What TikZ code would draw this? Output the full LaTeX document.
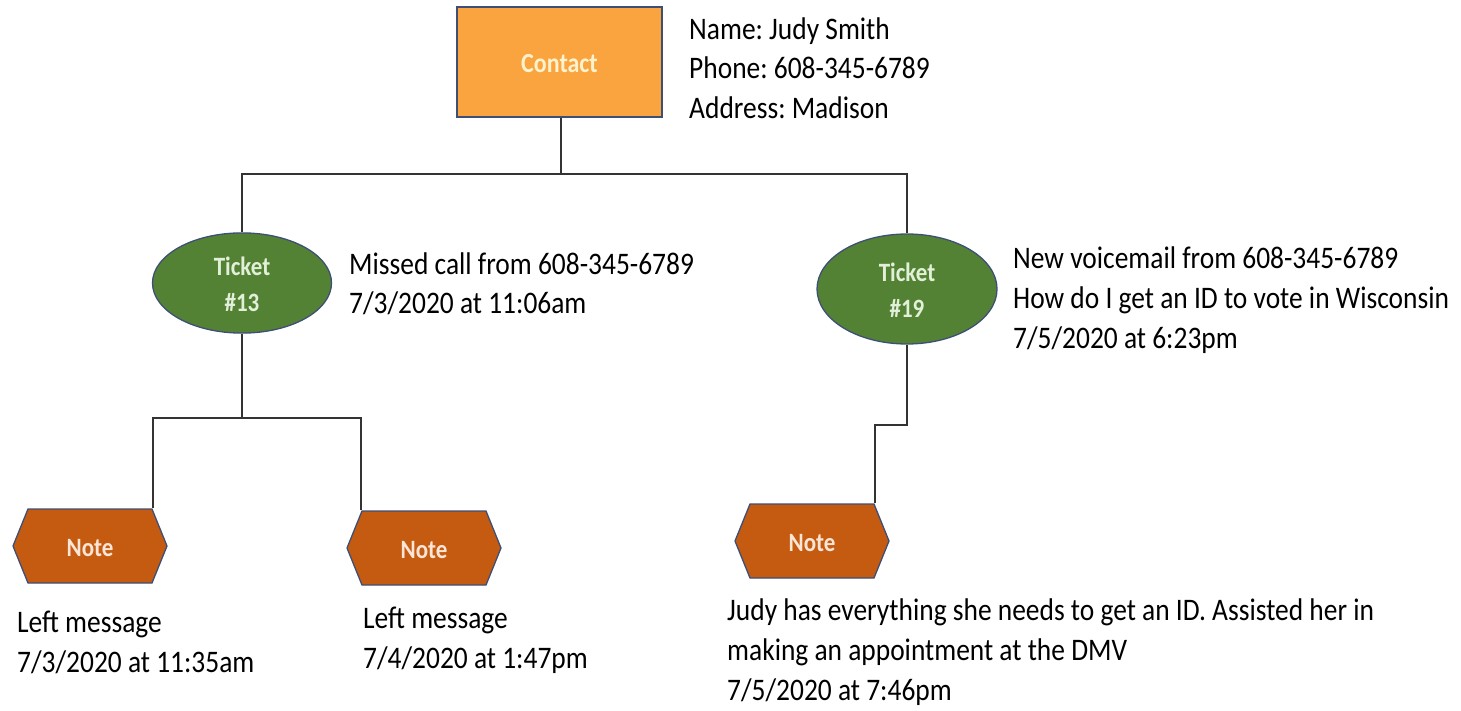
\documentclass[tikz,border=0pt]{standalone}
\usepackage{fontspec}
\usepackage{graphicx}
\setmainfont{Carlito}
\frenchspacing
\usetikzlibrary{calc,shapes.geometric}
\definecolor{contactfill}{HTML}{F9A43F}
\definecolor{ticketfill}{HTML}{548235}
\definecolor{notefill}{HTML}{C55A11}
\definecolor{border}{HTML}{3E4F75}
\definecolor{contacttext}{HTML}{FFF2CC}
\definecolor{tickettext}{HTML}{E2F0D9}
\definecolor{notetext}{HTML}{FBE5D6}
\definecolor{linec}{HTML}{333333}
\newcommand\infolines[1]{\scalebox{0.98}[1.12]{\def\arraystretch{1}\begin{tabular}{@{}l@{}}#1\end{tabular}}}
\newcommand\shapelines[1]{\raisebox{-3.5pt}[\height][\depth]{\scalebox{1}[1.15]{\def\arraystretch{1.1}\begin{tabular}{@{}c@{}}#1\end{tabular}}}}
\tikzset{
  contactbox/.style={rectangle, draw=border, line width=1.3pt, fill=contactfill, minimum width=205pt, minimum height=110pt, inner sep=0pt, text=contacttext, font=\fontsize{24}{28}\selectfont\bfseries},
  ticketbox/.style={ellipse, draw=border, line width=1.3pt, fill=ticketfill, inner sep=0pt, text=tickettext, font=\fontsize{23}{28}\selectfont\bfseries},
  notebox/.style={rectangle, minimum width=158pt, minimum height=78pt, inner sep=0pt, text=notetext, font=\fontsize{23}{28}\selectfont\bfseries,
    path picture={\draw[fill=notefill, draw=border, line width=1.3pt]
      ([xshift=2pt]path picture bounding box.west) --
      ([xshift=17pt,yshift=-2pt]path picture bounding box.north west) --
      ([xshift=-17pt,yshift=-2pt]path picture bounding box.north east) --
      ([xshift=-2pt]path picture bounding box.east) --
      ([xshift=-17pt,yshift=2pt]path picture bounding box.south east) --
      ([xshift=17pt,yshift=2pt]path picture bounding box.south west) -- cycle;}},
  info/.style={anchor=west, inner sep=0pt, yshift=-2.5pt, text=black, font=\fontsize{28}{35.5}\selectfont},
  conn/.style={draw=linec, line width=1.1pt}
}
\begin{document}
\begin{tikzpicture}[x=1pt,y=-1pt]
\useasboundingbox[fill=white] (0,0) rectangle (1461,711);
% nodes
\node[contactbox] (contact) at (559.5,62) {\shapelines{Contact}};
\node[ticketbox, minimum width=179pt, minimum height=95pt] (t13) at (242,283) {\shapelines{Ticket\\\#13}};
\node[ticketbox, minimum width=180pt, minimum height=110pt] (t19) at (907,289) {\shapelines{Ticket\\\#19}};
\node[notebox] (n1) at (90,546) {\shapelines{Note}};
\node[notebox] (n2) at (424,548) {\shapelines{Note}};
\node[notebox] (n3) at (812,541) {\shapelines{Note}};
% texts
\node[info] (ci) at (689,68.5) {\infolines{Name: Judy Smith\\Phone: 608-345-6789\\Address: Madison}};
\node[info] (ti13) at (349,283.5) {\infolines{Missed call from 608-345-6789\\7/3/2020 at 11:06am}};
\node[info] (ti19) at (1013,298) {\infolines{New voicemail from 608-345-6789\\How do I get an ID to vote in Wisconsin\\7/5/2020 at 6:23pm}};
\node[info] (ni1) at (17,642) {\infolines{Left message\\7/3/2020 at 11:35am}};
\node[info] (ni2) at (363,638) {\infolines{Left message\\7/4/2020 at 1:47pm}};
\node[info] (ni3) at (727,650) {\infolines{Judy has everything she needs to get an ID. Assisted her in\\making an appointment at the DMV\\7/5/2020 at 7:46pm}};
% connectors
\coordinate (j0) at (561,174);
\draw[conn] (contact.south -| j0) -- (j0);
\draw[conn] (j0) -| (t13.north);
\draw[conn] (j0) -| (t19.north);
\coordinate (j1) at (240,418);
\draw[conn] (t13.south) -- (t13.south |- j1);
\draw[conn] (t13.south |- j1) -| ($(n1.north)+(63,1)$);
\draw[conn] (t13.south |- j1) -| ($(n2.north)+(-63,1)$);
\coordinate (j2) at (907,425);
\draw[conn] (t19.south) -- (j2) -| ($(n3.north)+(63,1)$);
\end{tikzpicture}
\end{document}
